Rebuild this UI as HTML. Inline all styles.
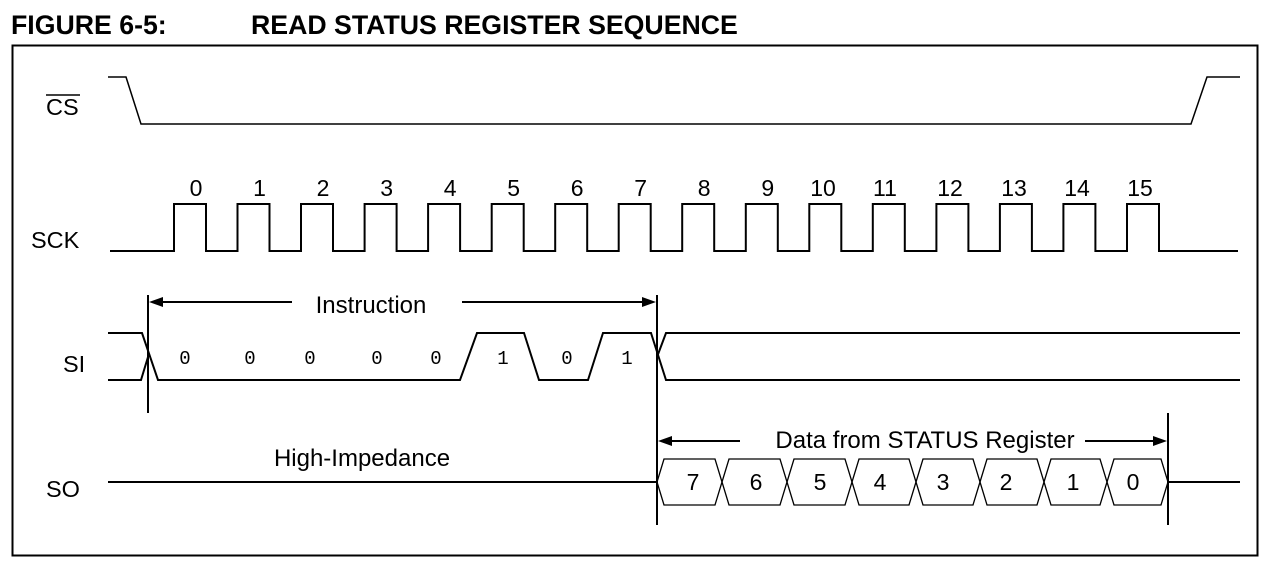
<!DOCTYPE html>
<html><head><meta charset="utf-8"><style>
html,body{margin:0;padding:0;background:#fff;}
svg{display:block;}
text{font-family:"Liberation Sans",sans-serif;fill:#000;}
text.m{font-family:"Liberation Mono",monospace;font-size:19px;}
</style></head><body>
<svg width="1279" height="579" viewBox="0 0 1279 579" xmlns="http://www.w3.org/2000/svg">
<text x="11" y="34" font-size="26.7" font-weight="bold">FIGURE 6-5:</text>
<text x="251" y="34" font-size="26.7" font-weight="bold">READ STATUS REGISTER SEQUENCE</text>
<rect x="12.5" y="45.5" width="1245" height="510" fill="none" stroke="#000" stroke-width="2"/>
<g fill="none" stroke="#000" stroke-width="2">
<polyline points="108,77 126,77 141,124 1191,124 1207,77 1240,77" stroke-width="1.5"/>
<polyline points="110,251 174,251 174,204 206,204 206,251 237.5,251 237.5,204 269.5,204 269.5,251 301,251 301,204 333,204 333,251 364.6,251 364.6,204 396.6,204 396.6,251 428.1,251 428.1,204 460.1,204 460.1,251 491.7,251 491.7,204 523.7,204 523.7,251 555.2,251 555.2,204 587.2,204 587.2,251 618.7,251 618.7,204 650.7,204 650.7,251 682.2,251 682.2,204 714.2,204 714.2,251 745.8,251 745.8,204 777.8,204 777.8,251 809.3,251 809.3,204 841.3,204 841.3,251 872.8,251 872.8,204 904.8,204 904.8,251 936.4,251 936.4,204 968.4,204 968.4,251 999.9,251 999.9,204 1031.9,204 1031.9,251 1063.4,251 1063.4,204 1095.4,204 1095.4,251 1127,251 1127,204 1159,204 1159,251 1238,251"/>
<polyline points="108,333 142,333 158,380 460,380 477,333 524,333 539,380 588,380 603,333 651,333 666,380 1240,380"/>
<polyline points="108,380 141,380 148,357"/>
<polyline points="657,357 666,333 1240,333"/>
<line x1="108" y1="482" x2="657" y2="482"/>
<line x1="1168" y1="482" x2="1240" y2="482"/>
<line x1="148" y1="295" x2="148" y2="413"/>
<line x1="657" y1="295" x2="657" y2="525"/>
<line x1="1168" y1="413" x2="1168" y2="525"/>
<line x1="160" y1="302" x2="292" y2="302"/>
<line x1="462" y1="302" x2="645" y2="302"/>
<line x1="669" y1="441" x2="740" y2="441"/>
<line x1="1085" y1="441" x2="1156" y2="441"/>
</g>
<g fill="#000">
<polygon points="149,302 163,297 163,307"/>
<polygon points="656,302 642,297 642,307"/>
<polygon points="658,441 672,436 672,446"/>
<polygon points="1167,441 1153,436 1153,446"/>
</g>
<g fill="none" stroke="#000" stroke-width="1.3">
<polygon points="657,482 664,459 715,459 722,482 715,505 664,505"/>
<polygon points="722,482 729,459 780,459 787,482 780,505 729,505"/>
<polygon points="787,482 794,459 845,459 852,482 845,505 794,505"/>
<polygon points="852,482 859,459 909,459 916,482 909,505 859,505"/>
<polygon points="916,482 923,459 973,459 980,482 973,505 923,505"/>
<polygon points="980,482 987,459 1037,459 1044,482 1037,505 987,505"/>
<polygon points="1044,482 1051,459 1100,459 1107,482 1100,505 1051,505"/>
<polygon points="1107,482 1114,459 1161,459 1168,482 1161,505 1114,505"/>
</g>
<g font-size="23" text-anchor="middle">
<text x="693" y="490">7</text><text x="756" y="490">6</text><text x="820" y="490">5</text><text x="880" y="490">4</text>
<text x="943" y="490">3</text><text x="1006" y="490">2</text><text x="1073" y="490">1</text><text x="1133" y="490">0</text>
</g>
<g font-size="24" text-anchor="middle">
<text x="371" y="313">Instruction</text>
<text x="362" y="466">High-Impedance</text>
<text x="925" y="448">Data from STATUS Register</text>
</g>
<g font-size="23" text-anchor="middle">
<text x="196" y="196">0</text><text x="259.5" y="196">1</text><text x="323" y="196">2</text><text x="386.6" y="196">3</text>
<text x="450.1" y="196">4</text><text x="513.7" y="196">5</text><text x="577.2" y="196">6</text><text x="640.7" y="196">7</text>
<text x="704.2" y="196">8</text><text x="767.8" y="196">9</text><text x="823" y="196">10</text><text x="885" y="196">11</text>
<text x="950" y="196">12</text><text x="1014" y="196">13</text><text x="1077" y="196">14</text><text x="1140" y="196">15</text>
</g>
<g font-size="23.5">
<text x="46" y="115">CS</text>
<line x1="46" y1="95" x2="80" y2="95" stroke="#000" stroke-width="1.5"/>
<text x="31" y="248">SCK</text>
<text x="63" y="372">SI</text>
<text x="46" y="497">SO</text>
</g>
<g text-anchor="middle">
<text class="m" x="185" y="364" fill="#3a6a9a">0</text><text class="m" x="250" y="364" fill="#3a6a9a">0</text><text class="m" x="310" y="364" fill="#555">0</text>
<text class="m" x="377" y="364" fill="#8a6a3a">0</text><text class="m" x="436" y="364" fill="#8a6a3a">0</text><text class="m" x="503" y="364" fill="#3a6a9a">1</text>
<text class="m" x="567" y="364" fill="#555">0</text><text class="m" x="627" y="364" fill="#8a6a3a">1</text>
</g>
</svg>
</body></html>
